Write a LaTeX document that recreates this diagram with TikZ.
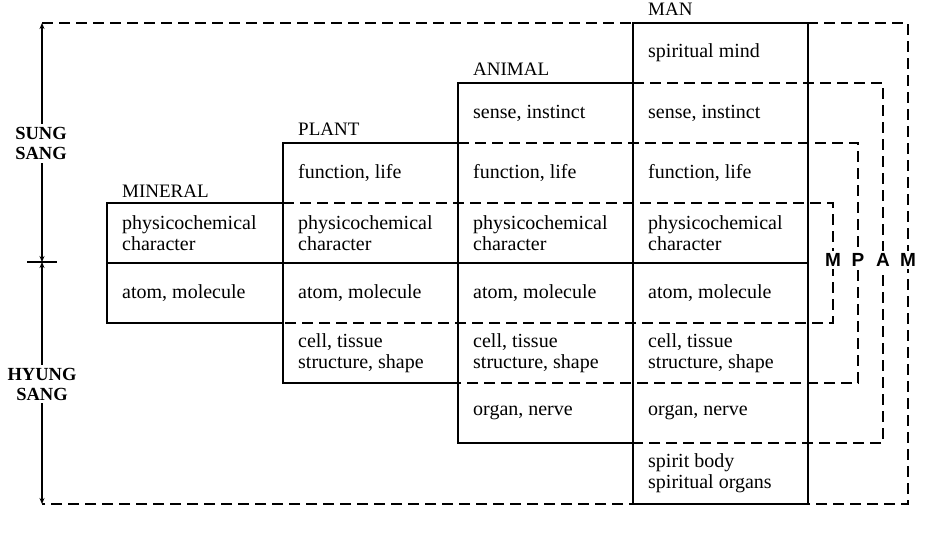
\documentclass[tikz,border=0pt]{standalone}
\usepackage{fontspec}
\setmainfont{Liberation Serif}
\newfontfamily\sansfnt{Liberation Sans}
\usetikzlibrary{arrows.meta}
\tikzset{
  box/.style={line width=1.3pt},
  dsh/.style={line width=1.1pt, dash pattern=on 11pt off 6pt},
  axisline/.style={line width=2pt, {Stealth[length=6pt,width=5pt]}-{Stealth[length=6pt,width=5pt]}},
  cell/.style={anchor=west, inner sep=0pt, align=left, font=\fontsize{20}{20.5}\selectfont},
  kingdom/.style={anchor=base west, inner sep=0pt, font=\fontsize{19}{20}\selectfont},
  side/.style={fill=white, inner sep=3pt, align=center, font=\fontsize{18.5}{20}\selectfont\bfseries},
  brk/.style={fill=white, inner sep=2pt, font=\sansfnt\bfseries\fontsize{19}{20}\selectfont},
}
\begin{document}
\begin{tikzpicture}[x=1pt,y=-1pt]
\useasboundingbox (0,0) rectangle (948,544);
% dashed brackets
\draw[dsh] (42,23) -- (908,23) -- (908,504) -- (42,504);
\draw[dsh] (633,83) -- (883,83) -- (883,443) -- (633,443);
\draw[dsh] (458,143) -- (858,143) -- (858,383) -- (458,383);
\draw[dsh] (283,203) -- (833,203) -- (833,323) -- (283,323);
% solid boxes
\draw[box] (283,203) -- (107,203) -- (107,323) -- (283,323);
\draw[box] (458,143) -- (283,143) -- (283,383) -- (458,383);
\draw[box] (633,83) -- (458,83) -- (458,443) -- (633,443);
\draw[box] (633,23) rectangle (808,504);
\draw[box] (107,263) -- (808,263);
% axis
\coordinate (atop) at (42,23);
\coordinate (amid) at (42,262);
\coordinate (abot) at (42,504);
\coordinate (tl) at (27,262);
\coordinate (tr) at (57,262);
\draw[axisline] (amid) -- (atop);
\draw[axisline] (amid) -- (abot);
\draw[box] (tl) -- (tr);
\node[side] (sung) at (41,143.5) {SUNG\\SANG};
\node[side] (hyung) at (42,384) {HYUNG\\SANG};
% kingdom labels
\node[kingdom] (lmin) at (122,197) {MINERAL};
\node[kingdom] (lpla) at (298,135) {PLANT};
\node[kingdom] (lani) at (473,75) {ANIMAL};
\node[kingdom] (lman) at (648,15) {MAN};
% mineral
\node[cell] (m4) at (122,233) {physicochemical\\character};
\node[cell] (m5) at (122,293) {atom, molecule};
% plant
\node[cell] (p3) at (298,173) {function, life};
\node[cell] (p4) at (298,233) {physicochemical\\character};
\node[cell] (p5) at (298,293) {atom, molecule};
\node[cell] (p6) at (298,353) {cell, tissue\\structure, shape};
% animal
\node[cell] (a2) at (473,113) {sense, instinct};
\node[cell] (a3) at (473,173) {function, life};
\node[cell] (a4) at (473,233) {physicochemical\\character};
\node[cell] (a5) at (473,293) {atom, molecule};
\node[cell] (a6) at (473,353) {cell, tissue\\structure, shape};
\node[cell] (a7) at (473,413) {organ, nerve};
% man
\node[cell] (h1) at (648,53) {spiritual mind};
\node[cell] (h2) at (648,113) {sense, instinct};
\node[cell] (h3) at (648,173) {function, life};
\node[cell] (h4) at (648,233) {physicochemical\\character};
\node[cell] (h5) at (648,293) {atom, molecule};
\node[cell] (h6) at (648,353) {cell, tissue\\structure, shape};
\node[cell] (h7) at (648,413) {organ, nerve};
\node[cell] (h8) at (648,473) {spirit body\\spiritual organs};
% bracket letters
\node[brk] (bm) at (833,260) {M};
\node[brk] (bp) at (858,260) {P};
\node[brk] (ba) at (883,260) {A};
\node[brk] (bh) at (908,260) {M};
\end{tikzpicture}
\end{document}
